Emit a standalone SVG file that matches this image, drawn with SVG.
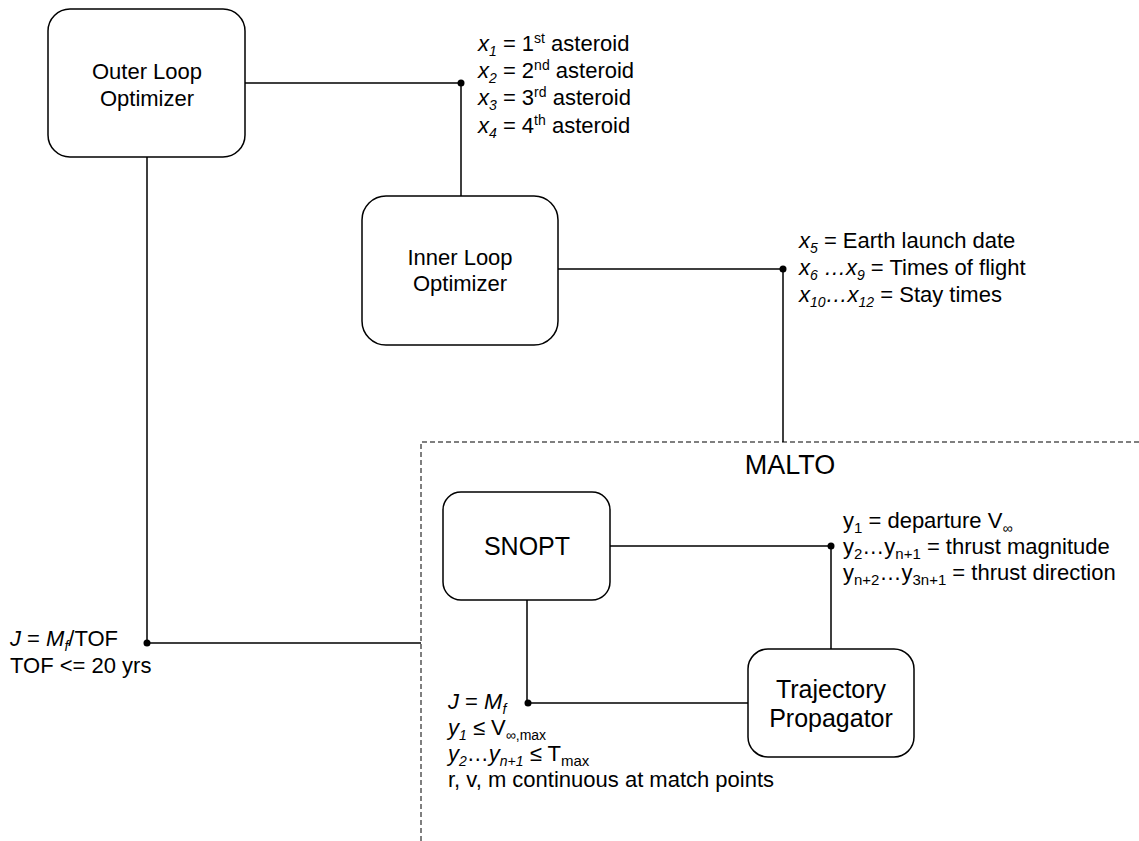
<svg xmlns="http://www.w3.org/2000/svg" width="1139" height="841" viewBox="0 0 1139 841">
<style>
.box{fill:#fff;stroke:#000;stroke-width:1.5}
.ln{fill:none;stroke:#000;stroke-width:1.5}
.dash{fill:none;stroke:#555;stroke-width:1.5;stroke-dasharray:5 3}
.dot{fill:#000}
text{font-family:"Liberation Sans",Arial,sans-serif;fill:#000}
.bt{font-size:22px;text-anchor:middle}
.bt2{font-size:25px;text-anchor:middle}
.lb{font-size:22px}
.i{font-style:italic}
.s{font-size:14px}
.s2{font-size:15px}
</style>
<rect width="1139" height="841" fill="#fff"/>
<g id="connectors">
<path class="dash" d="M421,841 V442 H1139"/>
<path class="ln" d="M245,83 H461 V196"/>
<path class="ln" d="M147,157 V643 H421"/>
<path class="ln" d="M558,269 H783 V442"/>
<path class="ln" d="M610,546 H831 V649"/>
<path class="ln" d="M527,600 V703 H748"/>
<circle class="dot" cx="461" cy="83" r="3.5"/>
<circle class="dot" cx="783" cy="269" r="3.5"/>
<circle class="dot" cx="147" cy="643" r="3.5"/>
<circle class="dot" cx="831" cy="546" r="3.5"/>
<circle class="dot" cx="528" cy="703" r="3.5"/>
</g>
<g id="outer">
<rect class="box" x="48" y="9" width="197" height="148" rx="22"/>
<text class="bt" x="147" y="79">Outer Loop</text>
<text class="bt" x="147" y="106">Optimizer</text>
</g>
<g id="inner">
<rect class="box" x="362" y="196" width="196" height="149" rx="24"/>
<text class="bt" x="460" y="265">Inner Loop</text>
<text class="bt" x="460" y="291">Optimizer</text>
</g>
<g id="malto">
<text x="790" y="474" style="font-size:27px;text-anchor:middle">MALTO</text>
</g>
<g id="snopt">
<rect class="box" x="443" y="492" width="167" height="108" rx="18"/>
<text class="bt2" x="527" y="555">SNOPT</text>
</g>
<g id="trajectory">
<rect class="box" x="748" y="649" width="166" height="108" rx="20"/>
<text class="bt2" x="831" y="698">Trajectory</text>
<text class="bt2" x="831" y="727">Propagator</text>
</g>
<g id="labels-asteroids" class="lb">
<text x="478" y="51"><tspan class="i">x</tspan><tspan class="i s" dy="5">1</tspan><tspan dy="-5"> = 1</tspan><tspan class="s" dy="-8">st</tspan><tspan dy="8"> asteroid</tspan></text>
<text x="478" y="78"><tspan class="i">x</tspan><tspan class="i s" dy="5">2</tspan><tspan dy="-5"> = 2</tspan><tspan class="s" dy="-8">nd</tspan><tspan dy="8"> asteroid</tspan></text>
<text x="478" y="105"><tspan class="i">x</tspan><tspan class="i s" dy="5">3</tspan><tspan dy="-5"> = 3</tspan><tspan class="s" dy="-8">rd</tspan><tspan dy="8"> asteroid</tspan></text>
<text x="478" y="133"><tspan class="i">x</tspan><tspan class="i s" dy="5">4</tspan><tspan dy="-5"> = 4</tspan><tspan class="s" dy="-8">th</tspan><tspan dy="8"> asteroid</tspan></text>
</g>
<g id="labels-inner" class="lb">
<text x="799" y="248"><tspan class="i">x</tspan><tspan class="i s" dy="5">5</tspan><tspan dy="-5"> = Earth launch date</tspan></text>
<text x="799" y="275"><tspan class="i">x</tspan><tspan class="i s" dy="5">6</tspan><tspan class="i" dy="-5"> …x</tspan><tspan class="i s" dy="5">9</tspan><tspan dy="-5"> = Times of flight</tspan></text>
<text x="799" y="302"><tspan class="i">x</tspan><tspan class="i s" dy="5">10</tspan><tspan class="i" dy="-5">…x</tspan><tspan class="i s" dy="5">12</tspan><tspan dy="-5"> = Stay times</tspan></text>
</g>
<g id="labels-outer-obj" class="lb">
<text x="10" y="646"><tspan class="i">J</tspan> = <tspan class="i">M</tspan><tspan class="i s" dy="5">f</tspan><tspan dy="-5">/TOF</tspan></text>
<text x="10" y="673">TOF &lt;= 20 yrs</text>
</g>
<g id="labels-snopt" class="lb">
<text x="843" y="528">y<tspan class="s2" dy="5">1</tspan><tspan dy="-5"> = departure V</tspan><tspan class="s" dy="5">∞</tspan></text>
<text x="843" y="554">y<tspan class="s2" dy="5">2</tspan><tspan dy="-5">…y</tspan><tspan class="s2" dy="5">n+1</tspan><tspan dy="-5"> = thrust magnitude</tspan></text>
<text x="843" y="580">y<tspan class="s2" dy="5">n+2</tspan><tspan dy="-5">…y</tspan><tspan class="s2" dy="5">3n+1</tspan><tspan dy="-5"> = thrust direction</tspan></text>
</g>
<g id="labels-constraints" class="lb">
<text x="448" y="709"><tspan class="i">J</tspan> = <tspan class="i">M</tspan><tspan class="i s" dy="5">f</tspan></text>
<text x="448" y="735"><tspan class="i">y</tspan><tspan class="i s" dy="5">1</tspan><tspan dy="-5"> ≤ V</tspan><tspan class="s" dy="5">∞,max</tspan></text>
<text x="448" y="761"><tspan class="i">y</tspan><tspan class="i s" dy="5">2</tspan><tspan dy="-5">…</tspan><tspan class="i">y</tspan><tspan class="i s" dy="5">n+1</tspan><tspan dy="-5"> ≤ T</tspan><tspan class="s2" dy="5">max</tspan></text>
<text x="448" y="787">r, v, m continuous at match points</text>
</g>
</svg>
